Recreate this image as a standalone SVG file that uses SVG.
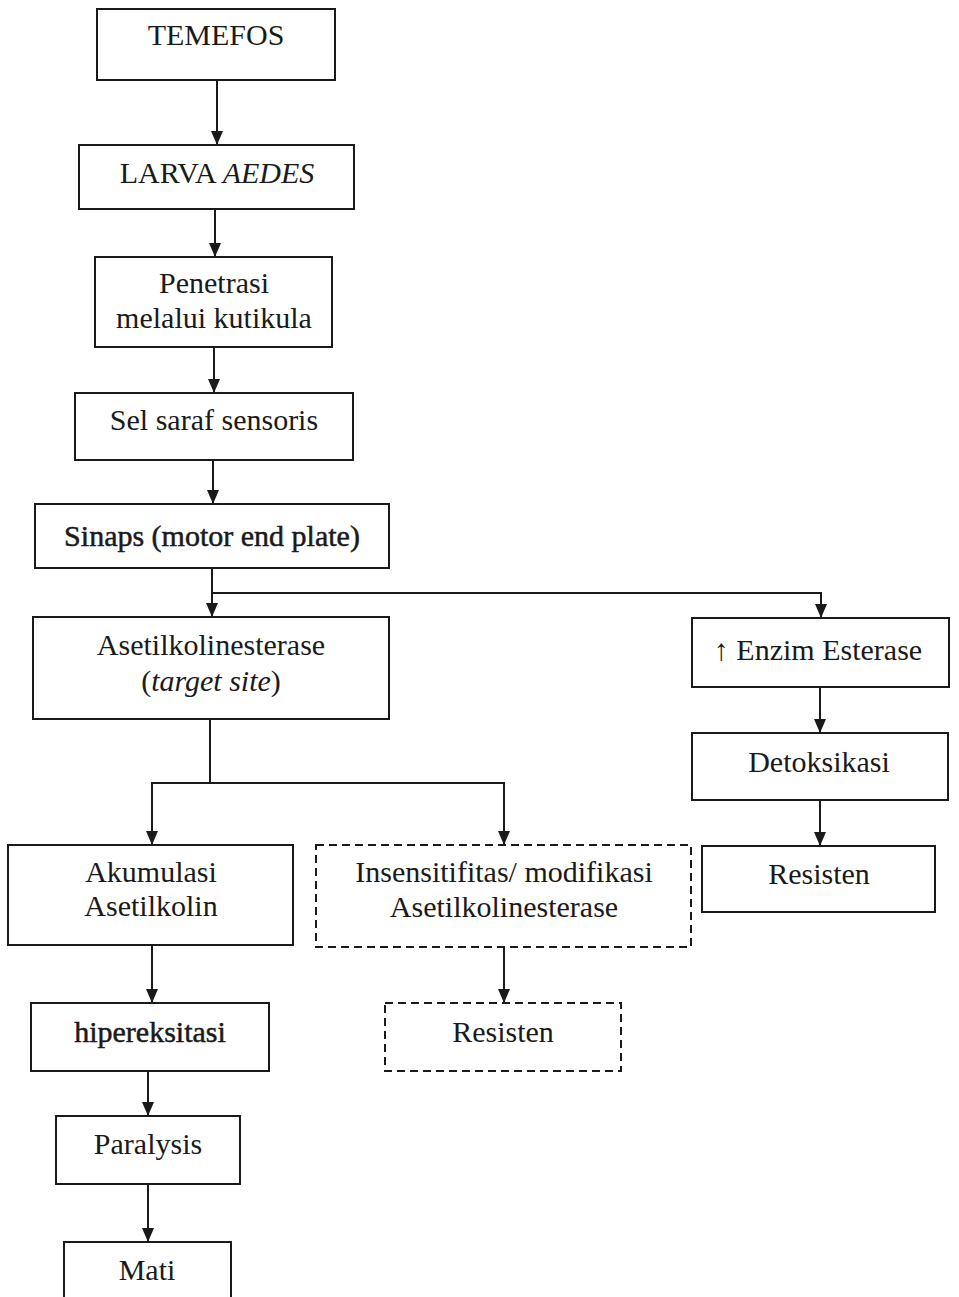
<svg xmlns="http://www.w3.org/2000/svg" width="959" height="1297" viewBox="0 0 959 1297">
<defs>
<marker id="ah" markerUnits="userSpaceOnUse" markerWidth="14" markerHeight="12" refX="14" refY="6" orient="auto">
<path d="M0,0 L14,6 L0,12 z" fill="#1a1a1a"/>
</marker>
<style>
.box{fill:#fff;stroke:#1a1a1a;stroke-width:2}
.dash{fill:#fff;stroke:#1a1a1a;stroke-width:2;stroke-dasharray:8 5}
.t{font-family:"Liberation Serif","Times New Roman",serif;font-size:30px;fill:#1a1a1a;text-anchor:middle}
.dk{stroke:#1a1a1a;stroke-width:0.5}
.c{fill:none;stroke:#1a1a1a;stroke-width:2}
</style>
</defs>
<rect width="959" height="1297" fill="#fff"/>
<g id="connectors">
<path class="c" d="M217,80 V145" marker-end="url(#ah)"/>
<path class="c" d="M215,209 V257" marker-end="url(#ah)"/>
<path class="c" d="M214,347 V393" marker-end="url(#ah)"/>
<path class="c" d="M213,460 V504" marker-end="url(#ah)"/>
<path class="c" d="M212,568 V617" marker-end="url(#ah)"/>
<path class="c" d="M212,593 H821 V618" marker-end="url(#ah)"/>
<path class="c" d="M820,687 V733" marker-end="url(#ah)"/>
<path class="c" d="M820,800 V846" marker-end="url(#ah)"/>
<path class="c" d="M210,719 V783 H152 V845" marker-end="url(#ah)"/>
<path class="c" d="M210,783 H504 V845" marker-end="url(#ah)"/>
<path class="c" d="M152,945 V1003" marker-end="url(#ah)"/>
<path class="c" d="M504,947 V1003" marker-end="url(#ah)"/>
<path class="c" d="M148,1071 V1116" marker-end="url(#ah)"/>
<path class="c" d="M148,1184 V1242" marker-end="url(#ah)"/>
</g>
<g id="temefos"><rect class="box" x="97" y="9" width="238" height="71"/><text class="t" x="216" y="45">TEMEFOS</text></g>
<g id="larva"><rect class="box" x="79" y="145" width="275" height="64"/><text class="t" x="217" y="183">LARVA <tspan font-style="italic">AEDES</tspan></text></g>
<g id="penetrasi"><rect class="box" x="95" y="257" width="237" height="90"/><text class="t" x="214" y="293">Penetrasi</text><text class="t" x="214" y="328">melalui kutikula</text></g>
<g id="sel-saraf"><rect class="box" x="75" y="393" width="278" height="67"/><text class="t" x="214" y="430">Sel saraf sensoris</text></g>
<g id="sinaps"><rect class="box" x="35" y="504" width="354" height="64"/><text class="t dk" x="212" y="546">Sinaps (motor end plate)</text></g>
<g id="asetilkolinesterase"><rect class="box" x="33" y="617" width="356" height="102"/><text class="t" x="211" y="655">Asetilkolinesterase</text><text class="t" x="211" y="691">(<tspan font-style="italic">target site</tspan>)</text></g>
<g id="enzim-esterase"><rect class="box" x="692" y="618" width="257" height="69"/><text class="t" x="818" y="660">↑ Enzim Esterase</text></g>
<g id="detoksikasi"><rect class="box" x="692" y="733" width="256" height="67"/><text class="t" x="819" y="772">Detoksikasi</text></g>
<g id="resisten-esterase"><rect class="box" x="702" y="846" width="233" height="66"/><text class="t" x="819" y="884">Resisten</text></g>
<g id="akumulasi"><rect class="box" x="8" y="845" width="285" height="100"/><text class="t" x="151" y="882">Akumulasi</text><text class="t" x="151" y="916">Asetilkolin</text></g>
<g id="insensitifitas"><rect class="dash" x="316" y="845" width="375" height="102"/><text class="t" x="504" y="882">Insensitifitas/ modifikasi</text><text class="t" x="504" y="917">Asetilkolinesterase</text></g>
<g id="hipereksitasi"><rect class="box" x="31" y="1003" width="238" height="68"/><text class="t dk" x="150" y="1042">hipereksitasi</text></g>
<g id="resisten-insens"><rect class="dash" x="385" y="1003" width="236" height="68"/><text class="t" x="503" y="1042">Resisten</text></g>
<g id="paralysis"><rect class="box" x="56" y="1116" width="184" height="68"/><text class="t" x="148" y="1154">Paralysis</text></g>
<g id="mati"><rect class="box" x="64" y="1242" width="167" height="60"/><text class="t" x="147" y="1280">Mati</text></g>
</svg>
